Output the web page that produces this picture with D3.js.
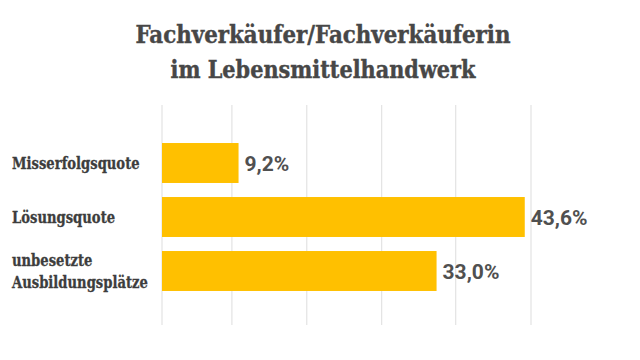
<!DOCTYPE html>
<html>
<head>
<meta charset="utf-8">
<script src="https://cdn.jsdelivr.net/npm/d3@7"></script>
<style>
  html, body { margin: 0; padding: 0; background: #fff; }
  svg { display: block; }
  .slab { font-family: "DejaVu Serif Condensed", "DejaVu Serif", serif; font-stretch: condensed; font-weight: bold; }
  .val { font-family: Roboto, "Liberation Sans", sans-serif; font-weight: bold; }
</style>
</head>
<body>
<svg id="chart" width="640" height="360"></svg>
<script>
const titleLines = ["Fachverkäufer/Fachverkäuferin", "im Lebensmittelhandwerk"];
const categories = [["Misserfolgsquote"], ["Lösungsquote"], ["unbesetzte", "Ausbildungsplätze"]];
const values = [9.2, 43.6, 33.0];
const valueLabels = ["9,2%", "43,6%", "33,0%"];
const gridTicks = [0, 8.4, 17.4, 26.4, 35.3, 44.35];

const svg = d3.select("#chart");
const W = 640, H = 360;
svg.append("rect").attr("width", W).attr("height", H).attr("fill", "#fff");

const x = d3.scaleLinear().domain([0, 44.35]).range([162, 531]);
const y = d3.scaleBand().domain(d3.range(categories.length)).range([136, 298]).paddingInner(0.26).paddingOuter(0.13);

// gridlines
svg.append("g").selectAll("line").data(gridTicks).join("line")
  .attr("x1", d => x(d)).attr("x2", d => x(d))
  .attr("y1", 105).attr("y2", 325)
  .attr("stroke", "#e3e3e3").attr("stroke-width", 1.2);

// title
const titleWidths = [375, 305];
svg.append("g").selectAll("text").data(titleLines).join("text")
  .attr("class", "slab")
  .attr("x", 323).attr("y", (d, i) => 43 + i * 35)
  .attr("text-anchor", "middle")
  .attr("font-size", 25)
  .attr("fill", "#474747")
  .attr("stroke", "#474747").attr("stroke-width", 0.4)
  .attr("textLength", (d, i) => titleWidths[i])
  .attr("lengthAdjust", "spacingAndGlyphs")
  .text(d => d);

// bars
svg.append("g").selectAll("rect").data(values).join("rect")
  .attr("x", x(0)).attr("y", (d, i) => y(i))
  .attr("width", d => x(d) - x(0)).attr("height", y.bandwidth())
  .attr("fill", "#FFC000");

// category labels
const lab = svg.append("g").selectAll("text").data(categories).join("text")
  .attr("class", "slab")
  .attr("font-size", 17)
  .attr("fill", "#3d3d3d")
  .attr("stroke", "#3d3d3d").attr("stroke-width", 0.3)
  .attr("transform", (d, i) => `translate(12,${y(i) + y.bandwidth() / 2}) scale(0.86,1)`);
lab.selectAll("tspan").data(d => d.map((t, j) => ({t, j, n: d.length}))).join("tspan")
  .attr("x", 0)
  .attr("y", d => (d.j - (d.n - 1) / 2) * 22)
  .attr("dy", "0.36em")
  .text(d => d.t);

// value labels
svg.append("g").selectAll("text").data(values).join("text")
  .attr("class", "val")
  .attr("x", d => x(d) + 6)
  .attr("y", (d, i) => y(i) + y.bandwidth() / 2)
  .attr("dy", "0.37em")
  .attr("font-size", 21)
  .attr("fill", "#505050")
  .text((d, i) => valueLabels[i]);
</script>
</body>
</html>
